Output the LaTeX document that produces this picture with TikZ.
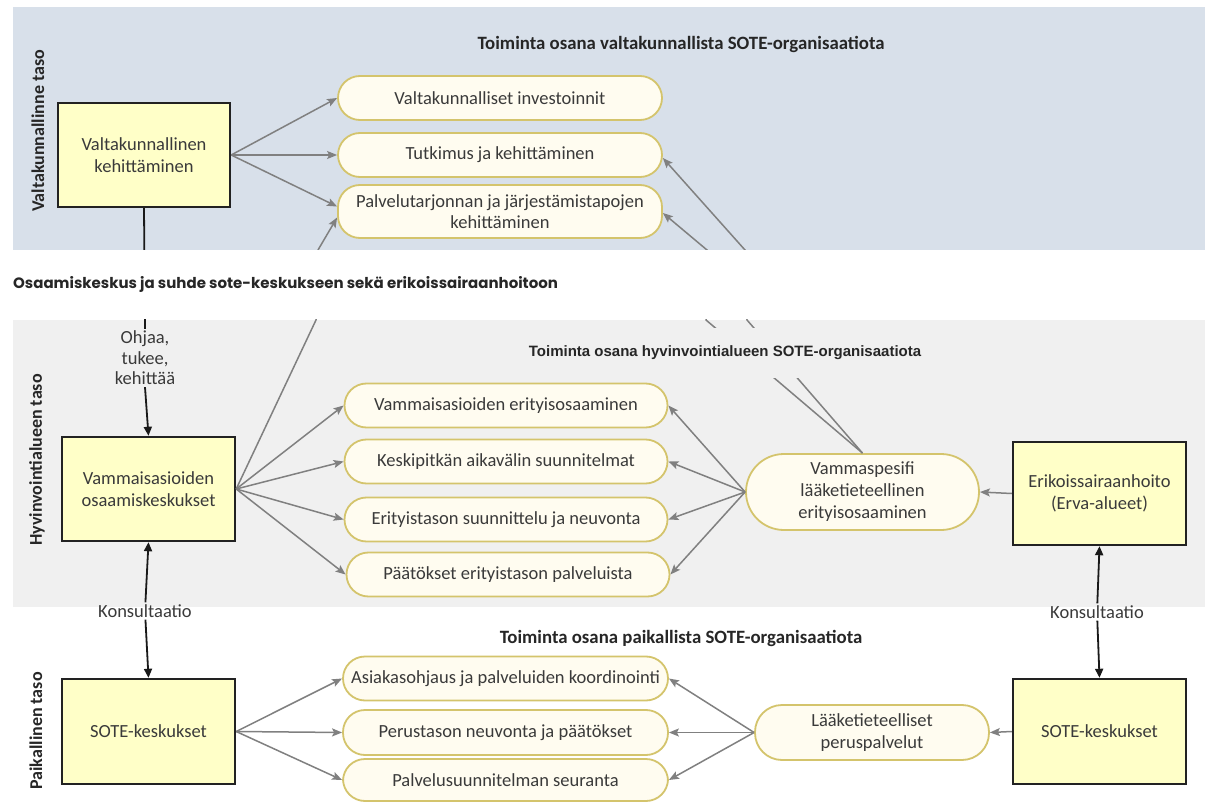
\documentclass[tikz,border=0pt]{standalone}
\usepackage{fontspec}
\setmainfont{Carlito}
\newfontfamily\arialf{Liberation Sans}
\newfontfamily\geo{Poppins}
\usetikzlibrary{arrows.meta}
\pgfdeclarelayer{bg}
\pgfdeclarelayer{cover}
\pgfsetlayers{bg,main,cover}
\definecolor{bandA}{HTML}{D8E0EA}
\definecolor{bandB}{HTML}{F0F0F0}
\definecolor{boxfill}{HTML}{FFFFC8}
\definecolor{boxline}{HTML}{222222}
\definecolor{pillfill}{HTML}{FFFCF0}
\definecolor{pillline}{HTML}{D4C46C}
\definecolor{agray}{HTML}{808080}
\definecolor{txt}{HTML}{3A3A3A}
\begin{document}
\begin{tikzpicture}[x=1pt,y=-1pt,
  base/.style={font=\fontsize{18.5}{22}\selectfont, text=txt, align=center},
  box/.style={base, draw=boxline, line width=2.4pt, fill=boxfill, minimum width=173pt, minimum height=104pt, inner sep=0pt},
  pill/.style={base, draw=pillline, line width=1.8pt, fill=pillfill, rounded corners=22pt, inner sep=0pt, minimum width=323pt, minimum height=44pt},
  lvl/.style={font=\bfseries\fontsize{18}{21}\selectfont, text=black!85, rotate=90},
  ttl/.style={font=\bfseries\fontsize{18.8}{21}\selectfont, text=black!85},
  lbl/.style={base, inner sep=2pt},
  garrow/.style={draw=agray, line width=1.5pt, -{Stealth[length=10pt,width=8pt,inset=2pt]}},
  barrow/.style={draw=black!90, line width=1.8pt, -{Triangle[length=9pt,width=8pt]}},
  bline/.style={draw=black!90, line width=1.8pt}
]
\useasboundingbox (0,0) rectangle (1205,802);
\begin{pgfonlayer}{bg}
  \fill[white] (0,0) rectangle (1205,802);
  \fill[bandA] (13,7) rectangle (1205,250);
  \fill[bandB] (13,320) rectangle (1205,607);
\end{pgfonlayer}

% level labels
\node[lvl] (lv1) at (38,131) {Valtakunnallinne taso};
\node[lvl] (lv2) at (37,460) {Hyvinvointialueen taso};
\node[lvl] (lv3) at (36,731) {Paikallinen taso};

% titles
\node[ttl] (t1) at (681,44) {Toiminta osana valtakunnallista SOTE-organisaatiota};
\node[ttl] (t3) at (681,638) {Toiminta osana paikallista SOTE-organisaatiota};

% boxes
\node[box, minimum width=172pt] (valta) at (144,155) {Valtakunnallinen\\kehittäminen};
\node[box] (vam) at (148.5,489) {Vammaisasioiden\\osaamiskeskukset};
\node[box, minimum height=105pt] (soteL) at (148.5,731.5) {SOTE-keskukset};
\node[box, minimum height=103pt] (erik) at (1099.5,493.5) {Erikoissairaanhoito\\(Erva-alueet)};
\node[box, minimum height=105pt] (soteR) at (1099.5,731.5) {SOTE-keskukset};

% top pills
\node[pill, minimum width=324pt] (p1) at (500,98) {Valtakunnalliset investoinnit};
\node[pill, minimum width=324pt] (p2) at (500,155) {Tutkimus ja kehittäminen};
\node[pill, minimum width=324pt, minimum height=53pt] (p3) at (500,211.5) {Palvelutarjonnan ja järjestämistapojen\\[-1pt]kehittäminen};

% middle pills
\node[pill] (m1) at (506,405.5) {Vammaisasioiden erityisosaaminen};
\node[pill] (m2) at (506,461.5) {Keskipitkän aikavälin suunnitelmat};
\node[pill] (m3) at (506,519.5) {Erityistason suunnittelu ja neuvonta};
\node[pill] (m4) at (508,574.5) {Päätökset erityistason palveluista};
\node[pill, minimum width=233pt, minimum height=76pt, rounded corners=38pt] (vsp) at (862.5,492) {Vammaspesifi\\lääketieteellinen\\erityisosaaminen};

% bottom pills
\node[pill, minimum width=325pt] (b1) at (505.5,678.5) {Asiakasohjaus ja palveluiden koordinointi};
\node[pill, minimum width=325pt, minimum height=45pt] (b2) at (505.5,732.5) {Perustason neuvonta ja päätökset};
\node[pill, minimum width=325pt, minimum height=42pt] (b3) at (505.5,780) {Palvelusuunnitelman seuranta};
\node[pill, minimum width=234pt, minimum height=55pt, rounded corners=27pt] (lak) at (872,732.5) {Lääketieteelliset\\peruspalvelut};

% labels
\node[lbl, font=\fontsize{18.5}{20.5}\selectfont] (ohj) at (145,358) {Ohjaa,\\tukee,\\kehittää};
\node[lbl] (konsL) at (145,611) {Konsultaatio};
\node[lbl] (konsR) at (1097,612) {Konsultaatio};

% black connectors
\draw[bline] (valta.south) -- (ohj.north);
\draw[barrow] (ohj.south) -- (vam.north);
\draw[barrow] (konsL) -- (vam.south);
\draw[barrow] (konsL) -- (soteL.north);
\draw[barrow] (konsR) -- (erik.south);
\draw[barrow] (konsR) -- (soteR.north);

% grey connectors, national level
\draw[garrow] (valta.east) -- (p1.west);
\draw[garrow] (valta.east) -- (p2.west);
\draw[garrow] (valta.east) -- ([yshift=5pt]p3.west);
\draw[garrow] (vam.east) -- (316,320) -- (318,250) -- ([yshift=-6pt]p3.west);
\draw[garrow] (vsp.north) -- (747,320) -- (745,250) -- ([yshift=-3pt]p2.east);
\draw[garrow] (vsp.north) -- (706,320) -- (707,250) -- ([yshift=-1.5pt]p3.east);

% grey connectors, regional level
\draw[garrow] (vam.east) -- (m1.west);
\draw[garrow] (vam.east) -- (m2.west);
\draw[garrow] (vam.east) -- (m3.west);
\draw[garrow] (vam.east) -- (m4.west);
\draw[garrow] (vsp.west) -- (m1.east);
\draw[garrow] (vsp.west) -- (m2.east);
\draw[garrow] (vsp.west) -- (m3.east);
\draw[garrow] (vsp.west) -- (m4.east);
\draw[garrow] (erik.west) -- (vsp.east);

% grey connectors, local level
\draw[garrow] (soteL.east) -- (b1.west);
\draw[garrow] (soteL.east) -- (b2.west);
\draw[garrow] (soteL.east) -- (b3.west);
\draw[garrow] (lak.west) -- (b1.east);
\draw[garrow] (lak.west) -- (b2.east);
\draw[garrow] (lak.west) -- (b3.east);
\draw[garrow] (soteR.west) -- (lak.east);

\begin{pgfonlayer}{cover}
  \fill[white] (0,250.5) rectangle (1205,319);
  \node[anchor=west, inner sep=0pt, font=\geo\bfseries\fontsize{15}{18}\selectfont, text=black!85] (t0) at (13,284) {Osaamiskeskus ja suhde sote-keskukseen sekä erikoissairaanhoitoon};
  \node[fill=bandB, minimum height=50pt, inner xsep=3pt, inner ysep=0pt, font=\arialf\bfseries\fontsize{15}{17}\selectfont, text=black!85] (t2) at (725,353) {Toiminta osana hyvinvointialueen SOTE-organisaatiota};
\end{pgfonlayer}
\end{tikzpicture}
\end{document}
